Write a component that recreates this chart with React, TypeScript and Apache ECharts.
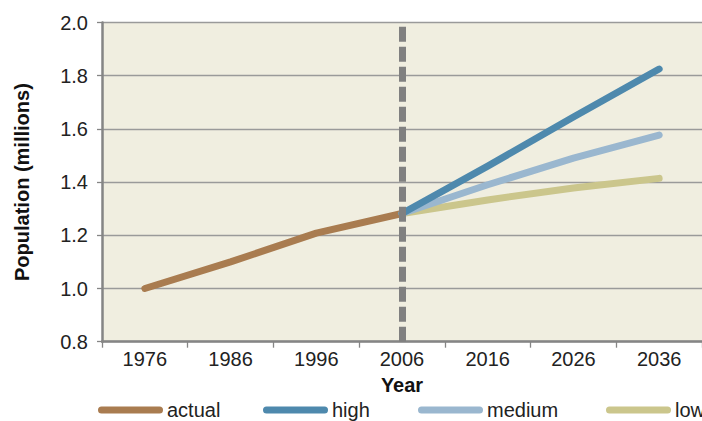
import React, { useEffect, useRef } from "react";
import * as echarts from "echarts";

const years = ["1976", "1986", "1996", "2006", "2016", "2026", "2036"];
const actual = [1.0, 1.1, 1.208, 1.282, null, null, null];
const high = [null, null, null, 1.282, 1.46, 1.645, 1.825];
const medium = [null, null, null, 1.282, 1.39, 1.49, 1.577];
const low = [null, null, null, 1.282, 1.333, 1.378, 1.414];
const legendOrder = ["actual", "high", "medium", "low"];
const dividerYear = "2006";

const FONT = "'Liberation Sans', Arial, Helvetica, sans-serif";
const colors: Record<string, string> = {
  actual: "#a97c50",
  high: "#4e89ad",
  medium: "#9ab7cf",
  low: "#cbc68c",
};
const legendLefts = [98, 263, 418, 606];

export default function App() {
  const ref = useRef<HTMLDivElement>(null);
  useEffect(() => {
    if (!ref.current) return;
    const chart = echarts.init(ref.current, undefined, { renderer: "svg" });
    const mk = (name: string, data: (number | null)[], extra: any = {}) => ({
      name,
      type: "line",
      data: data.map((v) => (v == null ? "-" : v)),
      showSymbol: false,
      symbol: "none",
      lineStyle: { width: 7, color: colors[name], cap: "round", join: "round" },
      itemStyle: { color: colors[name] },
      ...extra,
    });
    const pillIcon = "path://M3.5,0 L61.5,0 A3.5,3.5 0 0 1 61.5,7 L3.5,7 A3.5,3.5 0 0 1 3.5,0 Z";
    chart.setOption({
      animation: false,
      textStyle: { fontFamily: FONT },
      grid: {
        left: 102,
        right: -5,
        top: 22.5,
        bottom: 79.3,
        show: true,
        backgroundColor: "#f0eee0",
        borderWidth: 0,
      },
      legend: legendOrder.map((name, i) => ({
        data: [name],
        left: legendLefts[i],
        top: 400,
        padding: 0,
        width: 200,
        itemWidth: 65,
        itemHeight: 7,
        icon: pillIcon,
        textStyle: {
          fontSize: 20,
          lineHeight: 18,
          color: "#222",
          fontFamily: FONT,
          padding: [0, 0, 0, -1],
        },
      })),
      xAxis: {
        type: "category",
        data: years,
        boundaryGap: true,
        name: "Year",
        nameLocation: "middle",
        nameGap: 33,
        nameTextStyle: { fontSize: 20, fontWeight: "bold", color: "#111", fontFamily: FONT },
        axisLine: { lineStyle: { color: "#858585", width: 2.5 } },
        axisTick: { show: true, length: 6, lineStyle: { color: "#858585", width: 1.3 } },
        axisLabel: { fontSize: 20, color: "#222", margin: 7, fontFamily: FONT },
        splitLine: { show: false },
      },
      yAxis: {
        type: "value",
        min: 0.8,
        max: 2.0,
        interval: 0.2,
        name: "Population (millions)",
        nameLocation: "middle",
        nameGap: 70,
        nameTextStyle: { fontSize: 20, fontWeight: "bold", color: "#111", fontFamily: FONT },
        axisLine: { show: true, lineStyle: { color: "#858585", width: 2.5 } },
        axisTick: { show: true, length: 5, lineStyle: { color: "#858585", width: 1.3 } },
        axisLabel: {
          fontSize: 20,
          color: "#222",
          margin: 14,
          fontFamily: FONT,
          formatter: (v: number) => v.toFixed(1),
        },
        splitLine: { show: true, lineStyle: { color: "#9a9a9a", width: 1.3 } },
      },
      series: [
        mk("actual", actual, {
          markLine: {
            silent: true,
            symbol: "none",
            label: { show: false },
            lineStyle: { color: "#808080", width: 7, type: [15, 5] },
            data: [{ xAxis: dividerYear }],
          },
        }),
        mk("low", low),
        mk("medium", medium),
        mk("high", high),
      ],
    });
    return () => chart.dispose();
  }, []);
  return (
    <div
      ref={ref}
      style={{ position: "fixed", left: 0, top: 0, width: 702, height: 421, background: "#fff" }}
    />
  );
}
